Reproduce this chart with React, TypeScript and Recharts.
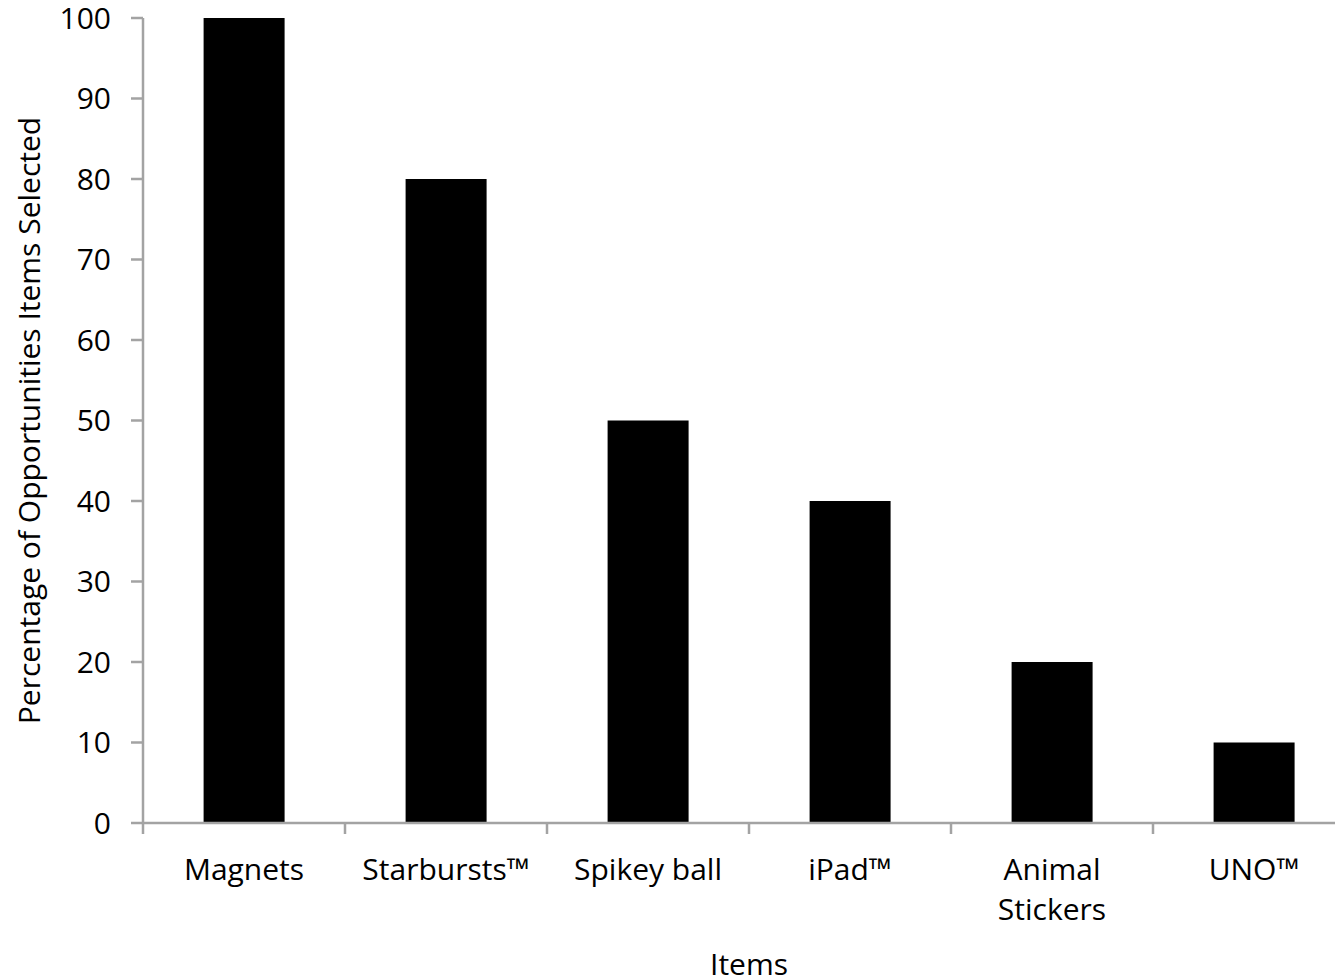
import React from 'react';
import { BarChart, Bar, XAxis, YAxis, Label } from 'recharts';

const items = ['Magnets', 'Starbursts™', 'Spikey ball', 'iPad™', 'Animal\nStickers', 'UNO™'];
const percentSelected = [100, 80, 50, 40, 20, 10];
const yTicks = [0, 10, 20, 30, 40, 50, 60, 70, 80, 90, 100];

const data = items.map((item, i) => ({ item, value: percentSelected[i] }));

const FONT = '"Open Sans", sans-serif';
const AXIS_GREY = '#a3a3a3';

// category label plus the Excel-style tick mark on the left edge of each band
const ItemTick = (props: any) => {
  const { x, y, payload, index, visibleTicksCount } = props;
  const half = payload.offset || 0;
  const lines = String(payload.value).split('\n');
  return (
    <g>
      <line x1={x - half} x2={x - half} y1={y} y2={y + 11} stroke={AXIS_GREY} strokeWidth={2.5} />
      {index === visibleTicksCount - 1 && (
        <line x1={x + half} x2={x + half} y1={y} y2={y + 11} stroke={AXIS_GREY} strokeWidth={2.5} />
      )}
      {lines.map((line, i) => (
        <text key={i} x={x} y={y + 57 + i * 40} textAnchor="middle" fill="#000" fontSize={30} fontFamily={FONT}>
          {line}
        </text>
      ))}
    </g>
  );
};

const YTitle = (props: any) => {
  const { viewBox } = props;
  const cy = viewBox.y + viewBox.height / 2;
  return (
    <text
      x={28}
      y={cy}
      transform={`rotate(-90, 28, ${cy})`}
      textAnchor="middle"
      dominantBaseline="central"
      fontSize={30}
      fontFamily={FONT}
      fill="#000"
    >
      Percentage of Opportunities Items Selected
    </text>
  );
};

const XTitle = (props: any) => {
  const { viewBox } = props;
  return (
    <text
      x={viewBox.x + viewBox.width / 2}
      y={963}
      textAnchor="middle"
      dominantBaseline="central"
      fontSize={30}
      fontFamily={FONT}
      fill="#000"
    >
      Items
    </text>
  );
};

export default function App() {
  return (
    <div style={{ marginLeft: -8, marginTop: -8, width: 1343, height: 980, overflow: 'hidden', background: '#fff' }}>
      <BarChart
        width={1355}
        height={980}
        data={data}
        margin={{ top: 18, right: 0, left: 0, bottom: 0 }}
        barCategoryGap="30%"
        style={{ fontFamily: FONT }}
      >
        <XAxis
          dataKey="item"
          height={157}
          axisLine={{ stroke: AXIS_GREY, strokeWidth: 2.5 }}
          tickLine={false}
          tickSize={0}
          tickMargin={0}
          interval={0}
          tick={<ItemTick />}
        >
          <Label content={<XTitle />} />
        </XAxis>
        <YAxis
          domain={[0, 100]}
          ticks={yTicks}
          width={143}
          tickSize={12}
          tickMargin={20}
          interval={0}
          tick={{ fontSize: 30, fill: '#000', fontFamily: FONT }}
          axisLine={{ stroke: AXIS_GREY, strokeWidth: 2.5 }}
          tickLine={{ stroke: AXIS_GREY, strokeWidth: 2.5 }}
        >
          <Label content={<YTitle />} />
        </YAxis>
        <Bar dataKey="value" fill="#000" isAnimationActive={false} />
      </BarChart>
    </div>
  );
}
